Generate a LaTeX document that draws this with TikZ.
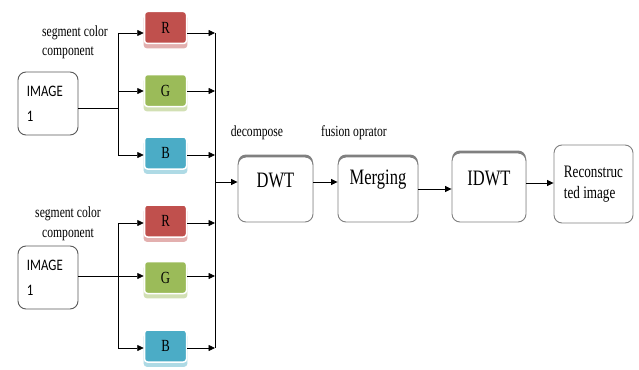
\documentclass[tikz,border=0pt]{standalone}
\usepackage{fontspec}
\setmainfont{Liberation Serif}
\newfontfamily\serifc[FakeStretch=0.75]{Liberation Serif}
\newfontfamily\sansc[FakeStretch=0.8]{Carlito}
\usetikzlibrary{arrows.meta,shadows}
\definecolor{rcol}{HTML}{C0504D}
\definecolor{gcol}{HTML}{9BBB59}
\definecolor{bcol}{HTML}{4BACC6}
\begin{document}
\begin{tikzpicture}[x=1pt,y=-1pt,
  ln/.style={line width=0.8pt},
  arr/.style={ln,-{Triangle[length=6.5pt,width=6pt]}},
  imgbox/.style={draw=black!65, line width=0.9pt, rounded corners=8pt,
    minimum width=60pt, minimum height=63pt, inner sep=0pt, text width=42pt,
    align=left, font=\sansc\fontsize{16}{25}\selectfont},
  rgbshadow/.style={drop shadow={shadow xshift=0pt, shadow yshift=-4pt, shadow scale=1.04, fill=#1!45, opacity=1}},
  rgb/.style={draw=white, line width=1.5pt, rounded corners=3pt,
    minimum width=42pt, minimum height=32pt, inner sep=0pt,
    font=\serifc\fontsize{17}{18}\selectfont},
  proc/.style={draw=black!50, line width=0.9pt, fill=white, rounded corners=8pt,
    inner sep=0pt, font=\serifc\fontsize{22}{24}\selectfont},
  topshadow/.style={drop shadow={shadow xshift=0pt, shadow yshift=2.5pt, fill=black!50, opacity=1}},
  lbl/.style={font=\serifc\fontsize{15.5}{19.5}\selectfont, inner sep=0pt}
]
\fill[white] (0,0) rectangle (639,369);
\useasboundingbox (0,0) rectangle (639,369);

% image boxes
\node[imgbox] (img1) at (48,103.5) {IMAGE\\1};
\node[imgbox] (img2) at (48,277.5) {IMAGE\\1};

% colour component boxes
\node[rgb, fill=rcol, rgbshadow=rcol] (r1) at (165.5,27.5) {R};
\node[rgb, fill=gcol, rgbshadow=gcol] (g1) at (165.5,90.5) {G};
\node[rgb, fill=bcol, rgbshadow=bcol] (b1) at (165.5,153) {B};
\node[rgb, fill=rcol, rgbshadow=rcol] (r2) at (165.5,221) {R};
\node[rgb, fill=gcol, rgbshadow=gcol] (g2) at (165.5,277.5) {G};
\node[rgb, fill=bcol, rgbshadow=bcol] (b2) at (165.5,346) {B};

% processing boxes
\node[proc, topshadow, minimum width=75pt, text height=30pt, text depth=35pt] (dwt) at (275.5,189.5) {DWT};
\node[proc, topshadow, minimum width=80pt, text height=27.5pt, text depth=37.5pt] (merge) at (378,189.5) {Merging};
\node[proc, topshadow, minimum width=74pt, text height=32pt, text depth=37pt] (idwt) at (489,187.5) {IDWT};
\node[proc, minimum width=79pt, minimum height=78pt, align=left,
  font=\serifc\fontsize{17.5}{21}\selectfont] (recon) at (593.5,184) {Reconstruc\\ted image};

% labels
\node[lbl, anchor=west, align=left] (seg1) at (42,42.5) {segment color\\component};
\node[lbl, align=center] (seg2) at (68,224) {segment color\\component};
\node[lbl] (ldec) at (257,133) {decompose};
\node[lbl] (lfus) at (354,133) {fusion oprator};

% coordinates
\coordinate (s1) at (118,108);
\coordinate (s1t) at (118,33);
\coordinate (s1g) at (118,91);
\coordinate (s1b) at (118,155);
\coordinate (s2) at (118,276);
\coordinate (s2t) at (118,223);
\coordinate (s2b) at (118,348);
\coordinate (m1) at (215,33);
\coordinate (m2) at (215,91);
\coordinate (m3) at (215,155);
\coordinate (m4) at (215,223);
\coordinate (m5) at (215,276);
\coordinate (m6) at (215,348);
\coordinate (mout) at (215,182);
\coordinate (ym) at (0,189);
\coordinate (yr) at (0,183);

% splitting
\draw[ln] (img1.east |- s1) -- (s1);
\draw[ln] (s1t) -- (s1b);
\draw[arr] (s1t) -- (r1.west |- s1t);
\draw[arr] (s1g) -- (g1.west |- s1g);
\draw[arr] (s1b) -- (b1.west |- s1b);
\draw[ln] (img2.east |- s2) -- (s2);
\draw[ln] (s2t) -- (s2b);
\draw[arr] (s2t) -- (r2.west |- s2t);
\draw[arr] (s2) -- (g2.west |- s2);
\draw[arr] (s2b) -- (b2.west |- s2b);

% merging bus
\draw[arr] (r1.east |- m1) -- (m1);
\draw[arr] (g1.east |- m2) -- (m2);
\draw[arr] (b1.east |- m3) -- (m3);
\draw[arr] (r2.east |- m4) -- (m4);
\draw[arr] (g2.east |- m5) -- (m5);
\draw[arr] (b2.east |- m6) -- (m6);
\draw[ln] (m1) -- (m6);

% pipeline
\draw[arr] (mout) -- (dwt.west |- mout);
\draw[arr] (dwt.east |- mout) -- (merge.west |- mout);
\draw[arr] (merge.east |- ym) -- (idwt.west |- ym);
\draw[arr] (idwt.east |- yr) -- (recon.west |- yr);
\end{tikzpicture}
\end{document}
